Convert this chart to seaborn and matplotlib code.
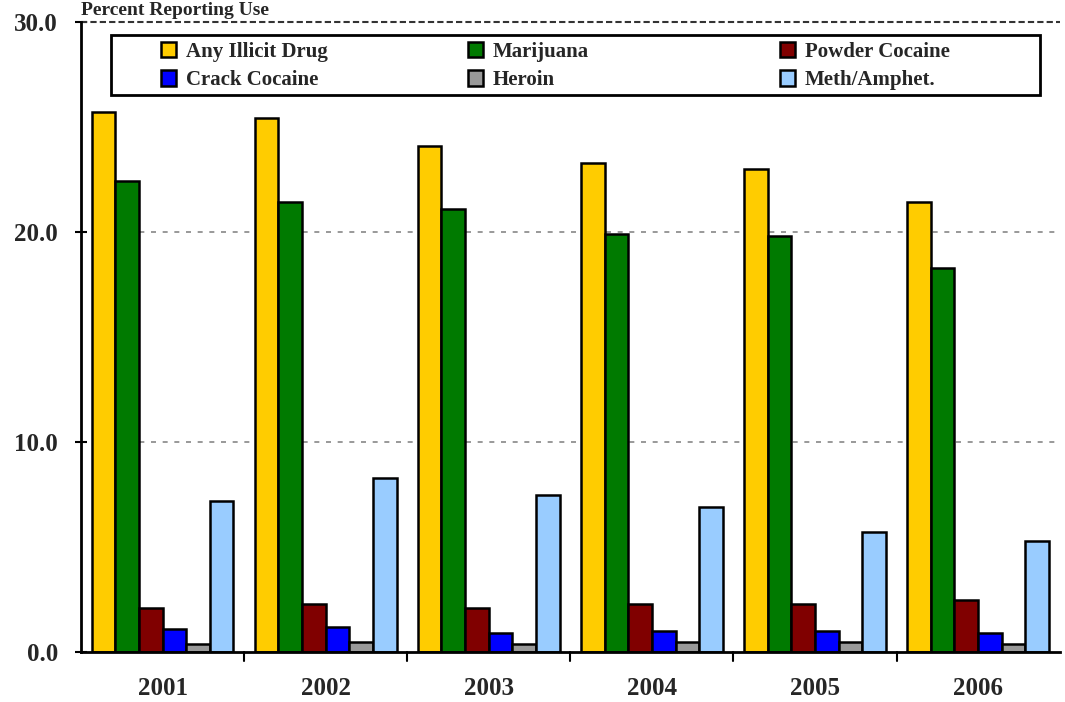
import pandas as pd
import matplotlib.pyplot as plt
import matplotlib.patches as mpatches
import seaborn as sns

years = ["2001", "2002", "2003", "2004", "2005", "2006"]
drugs = ["Any Illicit Drug", "Marijuana", "Powder Cocaine",
         "Crack Cocaine", "Heroin", "Meth/Amphet."]

any_illicit = [25.7, 25.4, 24.1, 23.3, 23.0, 21.4]
marijuana = [22.4, 21.4, 21.1, 19.9, 19.8, 18.3]
powder_cocaine = [2.1, 2.3, 2.1, 2.3, 2.3, 2.5]
crack_cocaine = [1.1, 1.2, 0.9, 1.0, 1.0, 0.9]
heroin = [0.4, 0.5, 0.4, 0.5, 0.5, 0.4]
meth = [7.2, 8.3, 7.5, 6.9, 5.7, 5.3]

colors = ["#FFCC00", "#007A00", "#800000", "#0000FF", "#999999", "#99CCFF"]

series = [any_illicit, marijuana, powder_cocaine, crack_cocaine, heroin, meth]
rows = []
for drug, vals in zip(drugs, series):
    for yr, v in zip(years, vals):
        rows.append({"year": yr, "drug": drug, "pct": v})
df = pd.DataFrame(rows)

sns.set_theme(style="white")
plt.rcParams["font.family"] = ["Liberation Serif", "DejaVu Serif"]

fig = plt.figure(figsize=(10.65, 7.02), dpi=100)
ax = fig.add_axes([0.076, 0.071, 0.919, 0.898])

sns.barplot(data=df, x="year", y="pct", hue="drug", hue_order=drugs,
            palette=colors, saturation=1, edgecolor="black", linewidth=1.8,
            width=0.87, gap=0, ax=ax, legend=True)

ax.set_ylim(0, 30)
ax.set_xlim(-0.5, 5.5)
ax.set_yticks([0, 10, 20, 30])
ax.set_yticklabels(["0.0", "10.0", "20.0", "30.0"], fontsize=18, fontweight="bold")
ax.set_xticks(range(6))
ax.set_xticklabels(years, fontsize=18, fontweight="bold")
ax.tick_params(axis="x", length=0, pad=18)
ax.tick_params(axis="y", length=9, width=1.5, direction="inout", left=True,
               color="black", pad=12)
ax.set_xlabel("")
ax.set_ylabel("")

# group separator ticks on the x axis
for b in [0.5, 1.5, 2.5, 3.5, 4.5]:
    ax.plot([b, b], [0, -0.4], color="black", lw=1.5, clip_on=False)

for y in [10, 20]:
    ax.axhline(y, color="#888888", ls=(0, (3, 4)), lw=1.2, zorder=0)
ax.axhline(30, color="#333333", ls=(0, (3, 1.5)), lw=1.5, clip_on=False)

for s in ["top", "right"]:
    ax.spines[s].set_visible(False)
for s in ["left", "bottom"]:
    ax.spines[s].set_color("black")
    ax.spines[s].set_linewidth(2)

ax.text(0.0, 1.004, "Percent Reporting Use", transform=ax.transAxes,
        fontsize=14, fontweight="bold", ha="left", va="bottom")

# legend: outer box plus three columns
ax.legend_.remove()
box = mpatches.Rectangle((0.0306, 0.884), 0.949, 0.095, transform=ax.transAxes,
                         facecolor="white", edgecolor="black", lw=2, zorder=5)
ax.add_patch(box)
handles = [mpatches.Patch(facecolor=c, edgecolor="black", lw=1.8) for c in colors]
col_x = [0.0816, 0.395, 0.714]
for k, x0 in enumerate(col_x):
    idx = [k, k + 3]
    leg = ax.legend([handles[i] for i in idx], [drugs[i] for i in idx],
                    loc="upper left", bbox_to_anchor=(x0, 0.968),
                    frameon=False, prop={"family": ["Liberation Serif"],
                                         "weight": "bold", "size": 15},
                    handlelength=0.75, handleheight=0.75, handletextpad=0.45,
                    borderpad=0, borderaxespad=0, labelspacing=0.4)
    leg.set_zorder(6)
    if k < 2:
        ax.add_artist(leg)

fig.savefig("out.png", dpi=100, facecolor="white")
